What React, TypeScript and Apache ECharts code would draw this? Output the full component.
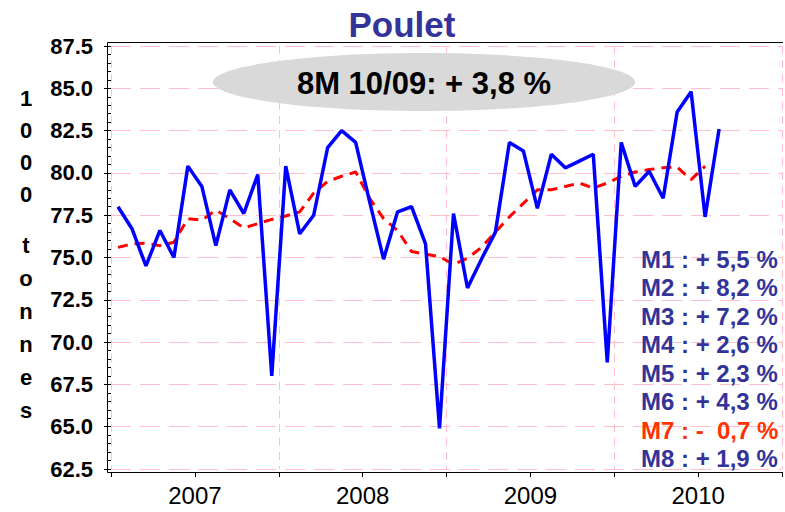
import React, { useEffect, useRef } from "react";
import * as echarts from "echarts";

const titleText = "Poulet";
const bubbleText = "8M 10/09: + 3,8 %";
const yAxisNameTop = ["1", "0", "0", "0"];
const yAxisNameBottom = ["t", "o", "n", "n", "e", "s"];
const yearLabels = ["2007", "2008", "2009", "2010"];
const firstYear = 2007;

// monthly tonnage (1000 t), Jan 2007 .. Aug 2010
const poulet = [
  78.0, 76.7, 74.5, 76.6, 75.0, 80.4, 79.2, 75.7, 79.0, 77.6, 79.9, 68.0,
  80.4, 76.4, 77.5, 81.5, 82.5, 81.8, 78.3, 74.9, 77.7, 78.0, 75.8, 64.9,
  77.6, 73.2, 74.9, 76.5, 81.8, 81.3, 77.9, 81.1, 80.3, 80.7, 81.1, 68.8,
  81.8, 79.2, 80.1, 78.5, 83.6, 84.8, 77.4, 82.6,
];
// smoothed trend (dashed red), Jan 2007 .. Jul 2010
const tendance = [
  75.6, 75.8, 75.85, 75.7, 75.9, 77.3, 77.2, 77.8, 77.3, 76.75, 77.0, 77.25,
  77.45, 77.7, 78.8, 79.5, 79.8, 80.05, 78.5, 77.3, 76.6, 75.35, 75.2, 75.05,
  74.6, 74.95, 75.6, 76.5, 77.4, 78.2, 79.0, 79.0, 79.2, 79.4, 79.1, 79.4,
  79.8, 80.05, 80.2, 80.3, 80.35, 79.6, 80.4,
];
const notes = [
  "M1 : + 5,5 %",
  "M2 : + 8,2 %",
  "M3 : + 7,2 %",
  "M4 : + 2,6 %",
  "M5 : + 2,3 %",
  "M6 : + 4,3 %",
  "M7 : -  0,7 %",
  "M8 : + 1,9 %",
];
const noteNegative = [false, false, false, false, false, false, true, false];

const FONT = '"Liberation Sans", Arial, sans-serif';
const BLUE_TXT = "#333399";

export default function App() {
  const ref = useRef<HTMLDivElement>(null);
  useEffect(() => {
    if (!ref.current) return;
    const chart = echarts.init(ref.current, null, { renderer: "svg" });
    const graphic: any[] = [
      {
        type: "text",
        z: 20,
        style: {
          text: titleText,
          x: 402,
          y: 24,
          textAlign: "center",
          textVerticalAlign: "middle",
          font: `bold 35px ${FONT}`,
          fill: BLUE_TXT,
        },
      },
      {
        type: "line",
        z: 20,
        shape: { x1: 107.5, y1: 42.5, x2: 783, y2: 42.5 },
        style: { stroke: "#000", lineWidth: 1 },
      },
      {
        type: "line",
        z: 20,
        shape: { x1: 107.5, y1: 42.5, x2: 107.5, y2: 472.5 },
        style: { stroke: "#000", lineWidth: 1 },
      },
      {
        type: "line",
        z: 20,
        shape: { x1: 107.5, y1: 472.5, x2: 783, y2: 472.5 },
        style: { stroke: "#000", lineWidth: 1 },
      },
      {
        type: "ellipse",
        z: 10,
        shape: { cx: 424, cy: 82, rx: 211, ry: 29 },
        style: { fill: "#d9d9d9" },
      },
      {
        type: "text",
        z: 11,
        style: {
          text: bubbleText,
          x: 424,
          y: 83,
          textAlign: "center",
          textVerticalAlign: "middle",
          font: `bold 31px ${FONT}`,
          fill: "#000",
        },
      },
    ];
    yAxisNameTop.forEach((ch, i) => {
      graphic.push({
        type: "text",
        z: 20,
        style: {
          text: ch,
          x: 26,
          y: 98 + i * 32,
          textAlign: "center",
          textVerticalAlign: "middle",
          font: `bold 22px ${FONT}`,
          fill: "#000",
        },
      });
    });
    yAxisNameBottom.forEach((ch, i) => {
      graphic.push({
        type: "text",
        z: 20,
        style: {
          text: ch,
          x: 26,
          y: 245 + i * 33,
          textAlign: "center",
          textVerticalAlign: "middle",
          font: `bold 22px ${FONT}`,
          fill: "#000",
        },
      });
    });
    notes.forEach((t, i) => {
      graphic.push({
        type: "text",
        z: 20,
        style: {
          text: t,
          x: 641,
          y: 259 + i * 28.5,
          textAlign: "left",
          textVerticalAlign: "middle",
          font: `bold 24px ${FONT}`,
          fill: noteNegative[i] ? "#ff3300" : BLUE_TXT,
        },
      });
    });

    chart.setOption({
      animation: false,
      backgroundColor: "#fff",
      grid: { left: 111, right: 2, top: 46, bottom: 43, containLabel: false },
      xAxis: {
        type: "value",
        min: 0,
        max: 48,
        interval: 6,
        offset: 3,
        axisLine: { show: false },
        axisTick: { show: true, length: 5, lineStyle: { color: "#000" } },
        axisLabel: {
          margin: 11,
          fontFamily: FONT,
          fontSize: 24,
          color: "#000",
          formatter: (v: number) =>
            v % 12 === 6 ? yearLabels[(v - 6) / 12] ?? String(firstYear + (v - 6) / 12) : "",
        },
        splitLine: {
          show: true,
          lineStyle: {
            color: ["#ffc0cb", "rgba(0,0,0,0)"],
            type: [8, 6],
            width: 1,
          },
        },
      },
      yAxis: {
        type: "value",
        min: 62.5,
        max: 87.5,
        interval: 2.5,
        offset: 3,
        axisLine: { show: false },
        axisTick: { show: true, length: 7, lineStyle: { color: "#000" } },
        minorTick: { show: true, splitNumber: 5, length: 4, lineStyle: { color: "#000" } },
        axisLabel: {
          margin: 15,
          fontFamily: FONT,
          fontSize: 22,
          fontWeight: "bold",
          color: "#000",
          formatter: (v: number) => v.toFixed(1),
        },
        splitLine: {
          show: true,
          lineStyle: { color: "#ffc0cb", type: [20, 9], width: 1 },
        },
      },
      series: [
        {
          type: "line",
          name: "tendance",
          data: tendance.map((v, i) => [i + 0.5, v]),
          symbol: "none",
          z: 3,
          lineStyle: { color: "#ff0000", width: 3, type: [10, 7] },
        },
        {
          type: "line",
          name: "poulet",
          data: poulet.map((v, i) => [i + 0.5, v]),
          symbol: "none",
          z: 4,
          lineStyle: { color: "#0000ff", width: 3.5 },
        },
      ],
      graphic,
    });
    return () => chart.dispose();
  }, []);
  return (
    <div
      ref={ref}
      style={{ position: "fixed", left: 0, top: 0, width: 785, height: 512 }}
    />
  );
}
